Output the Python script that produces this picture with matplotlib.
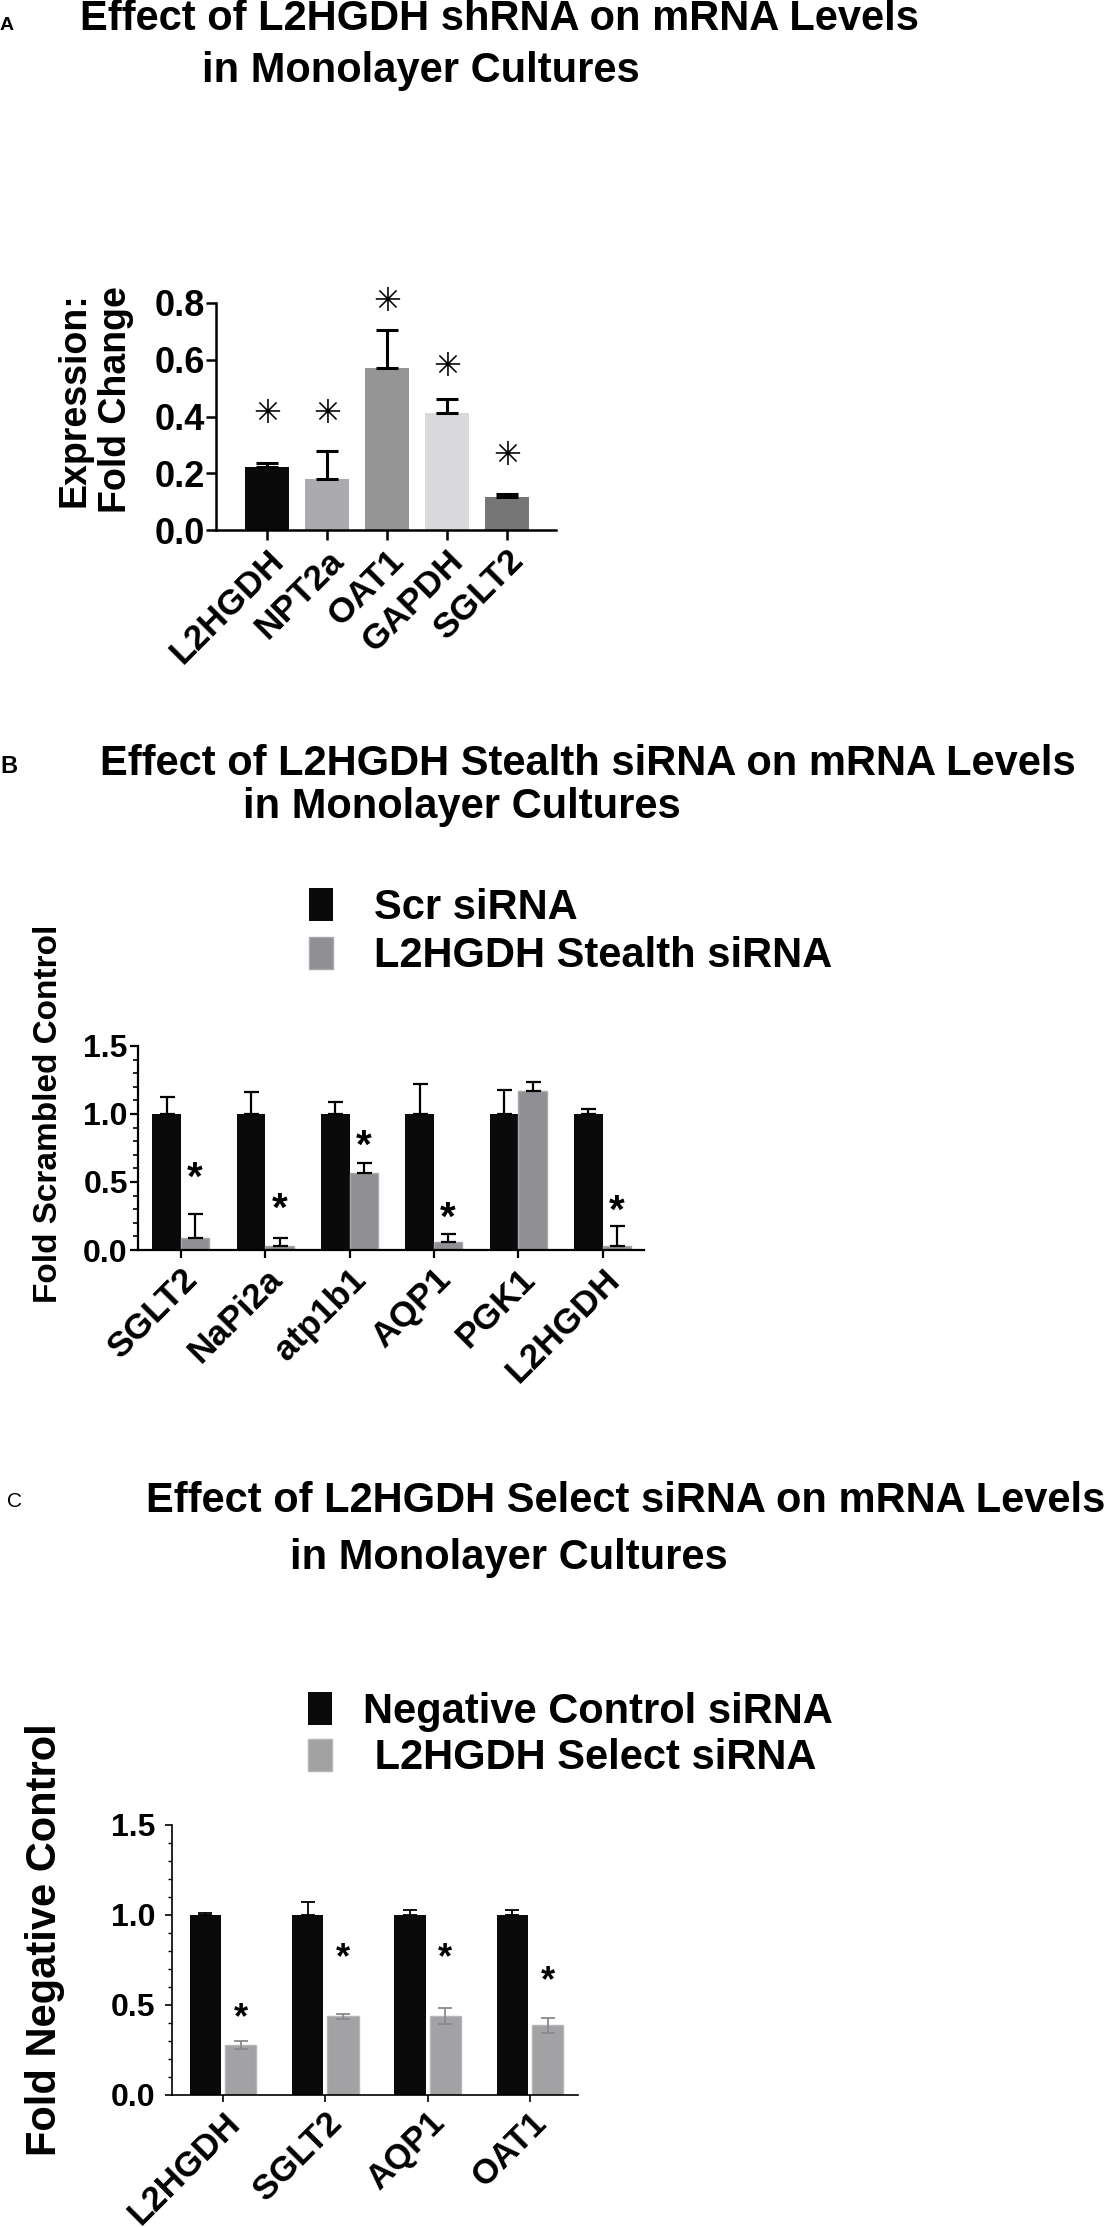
import matplotlib
matplotlib.use('Agg')
import matplotlib.pyplot as plt
import numpy as np
from matplotlib.ticker import MultipleLocator

plt.rcParams['font.family'] = ['Liberation Sans', 'DejaVu Sans']
plt.rcParams['font.weight'] = 'bold'

W, H = 1116, 2227

# --- panel A: shRNA ---
genes_a = ['L2HGDH', 'NPT2a', 'OAT1', 'GAPDH', 'SGLT2']
fold_a = [0.223, 0.181, 0.570, 0.412, 0.116]
sem_a = [0.012, 0.096, 0.134, 0.050, 0.011]
star_a = [0.418, 0.418, 0.814, 0.586, 0.273]
colors_a = ['#0a0a0a', '#ababaf', '#959595', '#d9d9db', '#767676']

# --- panel B: Stealth siRNA ---
genes_b = ['SGLT2', 'NaPi2a', 'atp1b1', 'AQP1', 'PGK1', 'L2HGDH']
scr_b = [1.0, 1.0, 1.0, 1.0, 1.0, 1.0]
scr_sem_b = [0.125, 0.165, 0.090, 0.220, 0.175, 0.040]
stealth_b = [0.086, 0.030, 0.568, 0.056, 1.168, 0.026]
stealth_sem_b = [0.178, 0.056, 0.069, 0.060, 0.070, 0.152]
star_b = [0.617, 0.386, 0.848, 0.320, None, 0.370]

# --- panel C: Select siRNA ---
genes_c = ['L2HGDH', 'SGLT2', 'AQP1', 'OAT1']
neg_c = [1.0, 1.0, 1.0, 1.0]
neg_sem_c = [0.013, 0.070, 0.030, 0.030]
select_c = [0.278, 0.437, 0.437, 0.387]
select_sem_c = [0.020, 0.013, 0.045, 0.042]
star_c = [0.489, 0.822, 0.822, 0.693]


def px_axes(fig, left, top, right, bottom):
    return fig.add_axes([left / W, 1 - bottom / H, (right - left) / W, (bottom - top) / H])


def style_axes(ax, lw, ylab_size, xlab_size, tick_len):
    for s in ['top', 'right']:
        ax.spines[s].set_visible(False)
    for s in ['left', 'bottom']:
        ax.spines[s].set_linewidth(lw)
    ax.tick_params(axis='both', which='major', width=lw, length=tick_len, pad=1)
    ax.tick_params(axis='y', labelsize=ylab_size)
    ax.tick_params(axis='x', labelsize=xlab_size, pad=3)


def stars(ax, xs, ys, size, family, char='*', off=0.58, weight='bold'):
    for x, y in zip(xs, ys):
        if y is None:
            continue
        ax.annotate(char, (x, y), xytext=(0, -off * size), textcoords='offset points',
                    ha='center', va='baseline', fontsize=size, family=family,
                    fontweight=weight, annotation_clip=False)


fig = plt.figure(figsize=(W / 100, H / 100), dpi=100)

title_kw = dict(fontsize=30, fontweight='bold', va='baseline', ha='left')

# ---------------- A ----------------
fig.text(0 / W, 1 - 30 / H, 'A', fontsize=14, fontweight='bold', va='baseline')
fig.text(80 / W, 1 - 30 / H, 'Effect of L2HGDH shRNA on mRNA Levels', **title_kw)
fig.text(202 / W, 1 - 82 / H, 'in Monolayer Cultures', **title_kw)

ax = px_axes(fig, 216, 303, 556, 530)
xa = np.arange(len(genes_a))
ax.bar(xa, fold_a, 0.73, color=colors_a,
       yerr=[np.zeros(len(sem_a)), sem_a],
       error_kw=dict(ecolor='black', elinewidth=2.2, capsize=7.8, capthick=2.2))
ax.set_xlim(-0.85, 4.82)
ax.set_ylim(0, 0.8)
ax.set_yticks([0.0, 0.2, 0.4, 0.6, 0.8])
ax.set_xticks(xa)
ax.set_xticklabels(genes_a, rotation=45, ha='right', va='top', rotation_mode='anchor')
style_axes(ax, 1.8, 26, 25.5, 7)
ax.set_ylabel('Expression:\nFold Change', fontsize=27, fontweight='bold', va='center')
ax.yaxis.set_label_coords(-0.356, 0.573)
stars(ax, xa, star_a, 24, ['DejaVu Sans'], char='\u2733', off=0.36, weight='normal')

# ---------------- B ----------------
fig.text(0 / W, 1 - 773 / H, 'B', fontsize=17, fontweight='bold', va='baseline')
fig.text(100 / W, 1 - 775 / H, 'Effect of L2HGDH Stealth siRNA on mRNA Levels', **title_kw)
fig.text(243 / W, 1 - 818 / H, 'in Monolayer Cultures', **title_kw)

ax = px_axes(fig, 137.5, 1046, 644, 1250)
xb = np.arange(len(genes_b))
wb = 0.338
ax.bar(xb - wb / 2, scr_b, wb, color='#0a0a0a', label='Scr siRNA',
       yerr=[np.zeros(len(scr_sem_b)), scr_sem_b],
       error_kw=dict(ecolor='black', elinewidth=1.6, capsize=5.4, capthick=1.6))
ax.bar(xb + wb / 2, stealth_b, wb, color='#909094', edgecolor='#a9a9ac', linewidth=1,
       label='L2HGDH Stealth siRNA',
       yerr=[np.zeros(len(stealth_sem_b)), stealth_sem_b],
       error_kw=dict(ecolor='black', elinewidth=1.6, capsize=5.4, capthick=1.6))
ax.set_xlim(-0.515, 5.49)
ax.set_ylim(0, 1.5)
ax.set_yticks([0.0, 0.5, 1.0, 1.5])
ax.yaxis.set_minor_locator(MultipleLocator(0.1))
ax.set_xticks(xb)
ax.set_xticklabels(genes_b, rotation=45, ha='right', va='top', rotation_mode='anchor')
style_axes(ax, 1.6, 23, 25.5, 6)
ax.tick_params(axis='y', which='minor', width=1.2, length=3.5)
ax.set_ylabel('Fold Scrambled Control', fontsize=24, fontweight='bold', va='center')
ax.yaxis.set_label_coords(-0.175, 0.667)
stars(ax, xb + wb / 2, star_b, 29, ['Liberation Sans'])
ax.legend(loc='upper left', bbox_to_anchor=(309 / W, 1 - 888 / H), bbox_transform=fig.transFigure,
          frameon=False, borderpad=0, borderaxespad=0, handlelength=0.58, handleheight=0.82,
          handletextpad=0.98, labelspacing=0.2, prop=dict(size=30, weight='bold'))

# ---------------- C ----------------
fig.text(7 / W, 1 - 1507 / H, 'C', fontsize=15, va='baseline', fontweight='normal')
fig.text(146 / W, 1 - 1512 / H, 'Effect of L2HGDH Select siRNA on mRNA Levels', **title_kw)
fig.text(290 / W, 1 - 1569 / H, 'in Monolayer Cultures', **title_kw)

ax = px_axes(fig, 172, 1825, 578, 2095)
xc = np.arange(len(genes_c))
wc = 0.305
dc = 0.173
ax.bar(xc - dc, neg_c, wc, color='#0a0a0a', label='Negative Control siRNA',
       yerr=[np.zeros(len(neg_sem_c)), neg_sem_c],
       error_kw=dict(ecolor='black', elinewidth=1.3, capsize=4.7, capthick=1.3))
ax.bar(xc + dc, select_c, wc, color='#a2a2a5', edgecolor='#b6b6b8', linewidth=1,
       label=' L2HGDH Select siRNA', yerr=select_sem_c,
       error_kw=dict(ecolor='#8a8a8c', elinewidth=1.3, capsize=4.7, capthick=1.3))
ax.set_xlim(-0.5, 3.47)
ax.set_ylim(0, 1.5)
ax.set_yticks([0.0, 0.5, 1.0, 1.5])
ax.yaxis.set_minor_locator(MultipleLocator(0.1))
ax.set_xticks(xc)
ax.set_xticklabels(genes_c, rotation=45, ha='right', va='top', rotation_mode='anchor')
style_axes(ax, 1.2, 23, 25, 5)
ax.tick_params(axis='y', which='major', pad=7)
ax.tick_params(axis='y', which='minor', width=1.0, length=3)
ax.set_ylabel('Fold Negative Control', fontsize=30, fontweight='bold', va='center')
ax.yaxis.set_label_coords(-0.313, 0.574)
stars(ax, xc + dc, star_c, 26, ['Liberation Sans'])
ax.legend(loc='upper left', bbox_to_anchor=(308 / W, 1 - 1692 / H), bbox_transform=fig.transFigure,
          frameon=False, borderpad=0, borderaxespad=0, handlelength=0.58, handleheight=0.82,
          handletextpad=0.75, labelspacing=0.15, prop=dict(size=30, weight='bold'))

fig.savefig('out.png', dpi=100)
